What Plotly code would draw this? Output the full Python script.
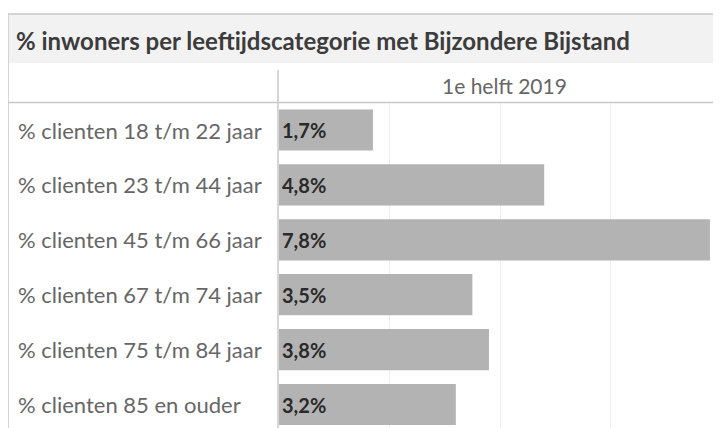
import plotly.graph_objects as go

# ---- data ----
categories = [
    "% clienten 18 t/m 22 jaar",
    "% clienten 23 t/m 44 jaar",
    "% clienten 45 t/m 66 jaar",
    "% clienten 67 t/m 74 jaar",
    "% clienten 75 t/m 84 jaar",
    "% clienten 85 en ouder",
]
values = [1.7, 4.8, 7.8, 3.5, 3.8, 3.2]
title_text = "% inwoners per leeftijdscategorie met Bijzondere Bijstand"
period_label = "1e helft 2019"

# ---- layout geometry (pixels, page coordinates; page body has 8px margin) ----
OFF = 8
W, H = 721 - OFF, 428 - OFF
L, T = 279 - OFF, 103 - OFF
PW, PH = W - L, H - T
FONT = "Lato"


def px(x):
    return (x - OFF - L) / PW


def py(y):
    return (H - (y - OFF)) / PH


value_text = [f"<b>{v:.1f}%</b>".replace(".", ",") for v in values]
ypos = list(range(len(categories)))

fig = go.Figure()
fig.add_trace(go.Bar(
    x=values,
    y=ypos,
    orientation="h",
    width=0.75,
    marker=dict(color="#b3b3b3", line=dict(width=0)),
    text=value_text,
    textposition="inside",
    insidetextanchor="start",
    textfont=dict(family=FONT, size=20, color="#2a2a2a"),
    constraintext="none",
    hoverinfo="skip",
))

LC = "#c8c8c8"
shapes = [
    # title band
    dict(type="rect", xref="paper", yref="paper", x0=px(8), x1=px(730), y0=py(63), y1=py(14),
         fillcolor="#f2f2f2", line=dict(width=0), layer="below"),
    # top border
    dict(type="line", xref="paper", yref="paper", x0=px(8), x1=px(730), y0=py(14), y1=py(14),
         line=dict(color=LC, width=1.5)),
    # left border
    dict(type="line", xref="paper", yref="paper", x0=px(8), x1=px(8), y0=py(14), y1=py(435),
         line=dict(color=LC, width=1.5)),
    # header separator
    dict(type="line", xref="paper", yref="paper", x0=px(8), x1=px(730), y0=py(102.5), y1=py(102.5),
         line=dict(color=LC, width=1.5)),
    # column separator
    dict(type="line", xref="paper", yref="paper", x0=px(278), x1=px(278), y0=py(70), y1=py(435),
         line=dict(color=LC, width=1.5)),
]

annotations = [
    dict(text=f"<b>{title_text}</b>", xref="paper", yref="paper", x=px(14), y=py(41),
         xanchor="left", yanchor="middle", showarrow=False,
         font=dict(family=FONT, size=24, color="#3c3c3c")),
    dict(text=period_label, xref="paper", yref="paper", x=px(504), y=py(86),
         xanchor="center", yanchor="middle", showarrow=False,
         font=dict(family=FONT, size=21, color="#666666")),
]
for i, c in enumerate(categories):
    annotations.append(dict(text=c, xref="paper", yref="y", x=px(16), y=i,
                            xanchor="left", yanchor="middle", showarrow=False,
                            font=dict(family=FONT, size=22, color="#666666")))

fig.update_layout(
    width=W, height=H,
    margin=dict(l=L, r=0, t=T, b=0, pad=0),
    paper_bgcolor="white",
    plot_bgcolor="white",
    showlegend=False,
    shapes=shapes,
    annotations=annotations,
    xaxis=dict(range=[0, 8], dtick=2, showgrid=True, gridcolor="#efefef", gridwidth=1,
               zeroline=False, showticklabels=False, ticks="", showline=False, fixedrange=True),
    yaxis=dict(range=[5.428, -0.492], showgrid=False, zeroline=False, showticklabels=False,
               ticks="", showline=False, fixedrange=True),
)

fig.write_html("out.html", config={"displayModeBar": False})
